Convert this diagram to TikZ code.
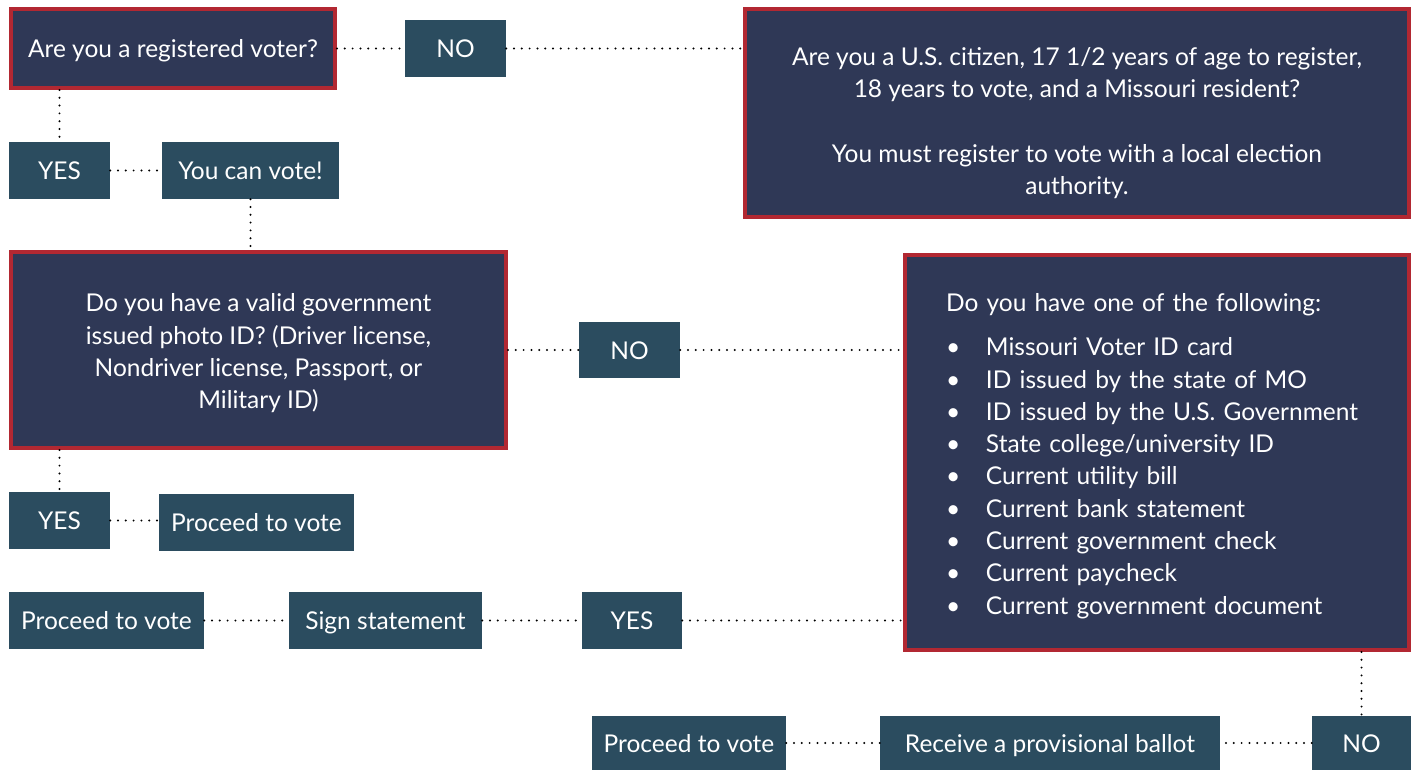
\documentclass[tikz,border=0pt]{standalone}
\usepackage{fontspec}
\setmainfont{Lato}
\definecolor{boxnavy}{RGB}{47,56,86}
\definecolor{boxteal}{RGB}{43,76,95}
\definecolor{boxred}{RGB}{178,40,50}
\tikzstyle{question}=[draw=boxred, line width=4pt, fill=boxnavy, text=white, align=center, inner sep=0pt]
\tikzstyle{answer}=[fill=boxteal, text=white, inner sep=0pt, minimum height=57pt, text height=18pt, text depth=0pt]
\tikzstyle{link}=[line width=2.2pt, line cap=round, dash pattern=on 0pt off 7.8pt]
\newcommand{\itm}[1]{\makebox[40pt][l]{\textbullet}#1}
\newcommand{\lift}[1]{\rule{0pt}{#1}}

\begin{document}
\begin{tikzpicture}[x=1pt, y=-1pt, font=\fontsize{24.5}{32.3}\selectfont]
\useasboundingbox (0,0) rectangle (1416,770);
% questions
\node[question, minimum width=324pt, minimum height=79pt, text height=18pt, text depth=0pt] at (173, 48.5) (reg) {Are you a registered voter?};
\node[question, minimum width=664pt, minimum height=208pt] at (1077, 113) (citizen) {\lift{38pt}Are you a U.S. citizen, 17 1/2 years of age to register,\\ 18 years to vote, and a Missouri resident?\\[32.3pt] You must register to vote with a local election\\ authority.};
\node[question, minimum width=495pt, minimum height=196pt] at (258.5, 350) (photoid) {\lift{25pt}Do you have a valid government\\ issued photo ID? (Driver license,\\ Nondriver license, Passport, or\\ Military ID)};
\node[question, minimum height=395pt, text width=422pt, inner xsep=41pt, align=left] at (1157, 452.5) (altid) {\lift{25pt}Do you have one of the following:\\[12pt]
\itm{Missouri Voter ID card}\\
\itm{ID issued by the state of MO}\\
\itm{ID issued by the U.S. Government}\\
\itm{State college/university ID}\\
\itm{Current utility bill}\\
\itm{Current bank statement}\\
\itm{Current government check}\\
\itm{Current paycheck}\\
\itm{Current government document}};
% answers
\node[answer, minimum width=101pt] at (455.5, 48.5) (no1) {NO};
\node[answer, minimum width=101pt] at (59.5, 170.5) (yes1) {YES};
\node[answer, minimum width=177pt] at (250.5, 170.5) (canvote) {You can vote!};
\node[answer, minimum width=101pt, minimum height=56pt] at (629.5, 350) (no2) {NO};
\node[answer, minimum width=101pt] at (59.5, 520.5) (yes2) {YES};
\node[answer, minimum width=195pt] at (256.5, 522.5) (vote1) {Proceed to vote};
\node[answer, minimum width=195pt] at (106.5, 620.5) (vote2) {Proceed to vote};
\node[answer, minimum width=193pt] at (385.5, 620.5) (sign) {Sign statement};
\node[answer, minimum width=100pt] at (632, 620.5) (yes3) {YES};
\node[answer, minimum width=194pt, minimum height=54pt] at (689, 743) (vote3) {Proceed to vote};
\node[answer, minimum width=340pt, minimum height=54pt] at (1050, 743) (ballot) {Receive a provisional ballot};
\node[answer, minimum width=99pt, minimum height=54pt] at (1361.5, 743) (no3) {NO};
% links
\draw[link] (reg) -- (no1);
\draw[link] (no1) -- (citizen.west |- no1);
\draw[link] (reg.south -| yes1) -- (yes1);
\draw[link] (yes1) -- (canvote);
\draw[link] (canvote) -- (photoid.north -| canvote);
\draw[link] (photoid) -- (no2);
\draw[link] (no2) -- (altid.west |- no2);
\draw[link] (photoid.south -| yes2) -- (yes2);
\draw[link] (yes2) -- (vote1.west |- yes2);
\draw[link] (vote2) -- (sign);
\draw[link] (sign) -- (yes3);
\draw[link] (yes3) -- (altid.west |- yes3);
\draw[link] (altid.south -| no3) -- (no3);
\draw[link] (no3) -- (ballot);
\draw[link] (ballot) -- (vote3);
\end{tikzpicture}
\end{document}
